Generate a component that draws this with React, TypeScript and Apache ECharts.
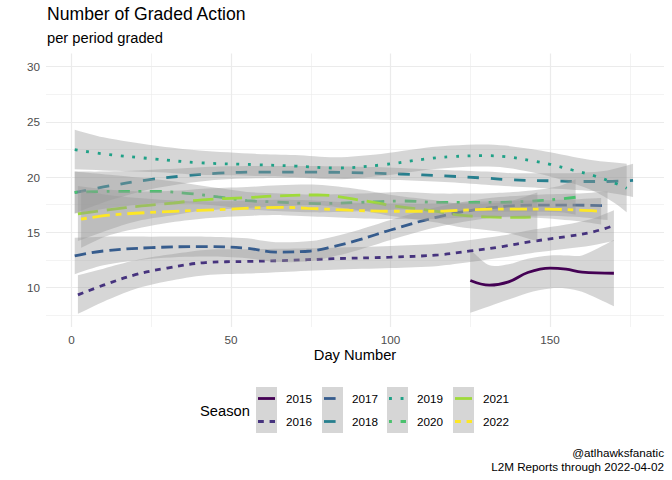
import React, { useEffect, useRef } from 'react';
import * as echarts from 'echarts';

const seasons = ['2015', '2016', '2017', '2018', '2019', '2020', '2021', '2022'];
const seasonColors = ['#440154', '#46337E', '#365C8D', '#277F8E', '#1FA187', '#4AC16D', '#9FDA3A', '#FDE725'];
const U = 2.9;
const seasonDashes: (number[] | 'solid')[] = [
  'solid',
  [2 * U, 2 * U],
  [4 * U, 2 * U],
  [4 * U, 4 * U],
  [1 * U, 3 * U],
  [1 * U, 3 * U, 4 * U, 3 * U],
  [7 * U, 3 * U],
  [2 * U, 2 * U, 6 * U, 2 * U],
];

const x2015 = [125, 131, 137, 143, 150, 155, 160, 170];
const y2015 = [10.62, 10.2, 10.5, 11.35, 11.75, 11.65, 11.38, 11.28];
const lo2015 = [7.7, 8.3, 8.9, 9.5, 9.9, 9.9, 9.6, 8.3];
const hi2015 = [13.4, 12.0, 12.1, 12.6, 12.9, 12.9, 12.9, 14.3];

const x2016 = [2, 10, 20, 30, 42, 55, 66, 82, 100, 115, 125, 135, 144, 155, 163, 170];
const y2016 = [9.32, 10.2, 11.15, 11.75, 12.25, 12.35, 12.43, 12.6, 12.74, 12.95, 13.3, 13.7, 14.15, 14.6, 15.0, 15.6];
const lo2016 = [7.6, 8.7, 9.85, 10.55, 11.1, 11.25, 11.4, 11.6, 11.75, 11.95, 12.3, 12.7, 13.1, 13.5, 13.8, 14.2];
const hi2016 = [11.1, 11.7, 12.45, 12.95, 13.4, 13.45, 13.5, 13.6, 13.75, 13.95, 14.3, 14.7, 15.2, 15.7, 16.2, 17.0];

const x2017 = [1, 10, 25, 42, 55, 64, 75, 82, 90, 100, 115, 131, 146, 158, 168];
const y2017 = [12.85, 13.3, 13.6, 13.7, 13.55, 13.2, 13.3, 13.7, 14.3, 15.2, 16.4, 17.2, 17.45, 17.45, 17.4];
const lo2017 = [11.2, 12.0, 12.6, 12.8, 12.65, 12.3, 12.4, 12.8, 13.4, 14.3, 15.5, 16.3, 16.5, 16.4, 16.1];
const hi2017 = [14.5, 14.6, 14.6, 14.6, 14.45, 14.1, 14.2, 14.6, 15.2, 16.1, 17.3, 18.1, 18.4, 18.5, 18.7];

const x2018 = [1, 10, 24, 35, 46, 60, 75, 87, 103, 117, 130, 138, 152, 160, 168, 176];
const y2018 = [18.6, 19.1, 19.75, 20.1, 20.35, 20.45, 20.45, 20.4, 20.28, 20.1, 19.9, 19.75, 19.65, 19.6, 19.6, 19.7];
const lo2018 = [16.7, 17.7, 18.85, 19.4, 19.75, 19.9, 19.9, 19.85, 19.73, 19.55, 19.3, 19.15, 18.95, 18.8, 18.6, 18.2];
const hi2018 = [20.5, 20.5, 20.65, 20.8, 20.95, 21.0, 21.0, 20.95, 20.83, 20.65, 20.5, 20.35, 20.35, 20.4, 20.6, 21.2];

const x2019 = [1, 10, 26, 40, 58, 70, 83, 97, 111, 119, 129, 136, 144, 150, 157, 164, 171, 174];
const y2019 = [22.48, 22.1, 21.64, 21.3, 21.12, 21.0, 20.82, 21.1, 21.64, 21.85, 21.94, 21.85, 21.5, 21.16, 20.64, 20.1, 19.37, 18.98];
const lo2019 = [20.7, 20.6, 20.45, 20.2, 20.1, 20.0, 19.8, 20.1, 20.65, 20.85, 20.95, 20.85, 20.45, 20.05, 19.45, 18.7, 17.5, 16.8];
const hi2019 = [24.3, 23.6, 22.85, 22.4, 22.1, 22.0, 21.8, 22.1, 22.65, 22.85, 22.95, 22.85, 22.55, 22.25, 21.85, 21.5, 21.3, 21.2];

const x2020 = [1, 12, 26, 36, 46, 55, 62, 77, 90, 104, 115, 124, 133, 143, 153, 158];
const y2020 = [18.62, 18.7, 18.71, 18.53, 18.2, 17.86, 17.77, 17.6, 17.7, 17.83, 17.7, 17.7, 17.7, 17.8, 18.0, 18.17];
const lo2020 = [16.7, 17.2, 17.6, 17.6, 17.4, 17.05, 16.95, 16.8, 16.9, 17.05, 16.9, 16.9, 16.85, 16.85, 16.8, 16.6];
const hi2020 = [20.5, 20.2, 19.8, 19.45, 19.0, 18.65, 18.55, 18.4, 18.5, 18.65, 18.5, 18.5, 18.55, 18.75, 19.2, 19.8];

const x2021 = [2, 12, 22, 32, 41, 55, 65, 77, 90, 101, 115, 121, 130, 138, 146];
const y2021 = [16.66, 17.05, 17.38, 17.65, 17.93, 18.14, 18.3, 18.38, 17.93, 17.38, 16.87, 16.57, 16.4, 16.35, 16.4];
const lo2021 = [14.2, 15.25, 16.1, 16.55, 16.95, 17.2, 17.35, 17.45, 17.0, 16.45, 15.85, 15.5, 15.2, 14.85, 14.2];
const hi2021 = [19.2, 18.85, 18.7, 18.75, 18.95, 19.1, 19.25, 19.3, 18.9, 18.35, 17.85, 17.6, 17.6, 17.85, 18.6];

const x2022 = [3, 12, 28, 40, 49, 57, 66, 74, 87, 100, 114, 126, 137, 147, 159, 166];
const y2022 = [16.18, 16.55, 16.84, 16.98, 17.08, 17.2, 17.25, 17.17, 17.0, 16.9, 16.9, 17.05, 17.1, 17.1, 17.0, 16.9];
const lo2022 = [13.6, 14.75, 15.75, 16.2, 16.4, 16.5, 16.55, 16.45, 16.3, 16.2, 16.2, 16.35, 16.35, 16.3, 16.0, 15.7];
const hi2022 = [18.8, 18.35, 17.95, 17.8, 17.8, 17.9, 17.95, 17.9, 17.7, 17.6, 17.6, 17.75, 17.85, 17.9, 18.0, 18.1];

const xTickLabels = [0, 50, 100, 150];
const yTickLabels = [10, 15, 20, 25, 30];
const xMajorGrid = [0, 50, 100, 150];
const xMinorGrid = [25, 75, 125, 175];
const yMajorGrid = [10, 15, 20, 25, 30];
const yMinorGrid = [7.5, 12.5, 17.5, 22.5, 27.5];

const titleText = 'Number of Graded Action';
const subtitleText = 'per period graded';
const xAxisTitle = 'Day Number';
const legendTitle = 'Season';
const captionLines = ['@atlhawksfanatic', 'L2M Reports through 2022-04-02'];

const seriesX = [x2015, x2016, x2017, x2018, x2019, x2020, x2021, x2022];
const seriesY = [y2015, y2016, y2017, y2018, y2019, y2020, y2021, y2022];
const seriesLo = [lo2015, lo2016, lo2017, lo2018, lo2019, lo2020, lo2021, lo2022];
const seriesHi = [hi2015, hi2016, hi2017, hi2018, hi2019, hi2020, hi2021, hi2022];

const FONT = '"Liberation Sans", Arial, Helvetica, sans-serif';
const BAND_FILL = 'rgba(153,153,153,0.4)';
const LW = 2.8;
const EPS = 0.01;
const TICK_COLOR = '#4D4D4D';

export default function App() {
  const ref = useRef<HTMLDivElement>(null);
  useEffect(() => {
    if (!ref.current) return;
    const chart = echarts.init(ref.current, undefined, { renderer: 'svg', width: 672, height: 480 });

    const series: any[] = [];
    const gridLine = (w: number) => ({ color: '#EBEBEB', width: w, type: 'solid' });
    series.push({
      type: 'line',
      data: [[0, 10]],
      symbol: 'none',
      lineStyle: { width: 0, opacity: 0 },
      silent: true,
      z: 1,
      markLine: {
        silent: true,
        symbol: ['none', 'none'],
        label: { show: false },
        emphasis: { disabled: true },
        data: [
          ...xMinorGrid.map((v) => ({ xAxis: v, lineStyle: gridLine(0.6) })),
          ...yMinorGrid.map((v) => ({ yAxis: v, lineStyle: gridLine(0.6) })),
          ...xMajorGrid.map((v) => ({ xAxis: v, lineStyle: gridLine(1.2) })),
          ...yMajorGrid.map((v) => ({ yAxis: v, lineStyle: gridLine(1.2) })),
        ],
      },
    });

    seasons.forEach((s, i) => {
      const xs = seriesX[i];
      const lo = seriesLo[i];
      const hi = seriesHi[i];
      const n = xs.length;
      series.push({
        type: 'custom',
        name: s + ' band',
        coordinateSystem: 'cartesian2d',
        silent: true,
        z: 10 + 2 * i,
        data: [[xs[0], seriesY[i][0]]],
        encode: { x: 0, y: 1 },
        renderItem: (params: any, api: any) => {
          const pts: number[][] = [];
          pts.push(api.coord([xs[0], lo[0] + EPS]));
          pts.push(api.coord([xs[0], hi[0] - EPS]));
          for (let k = 0; k < n; k++) pts.push(api.coord([xs[k], hi[k]]));
          pts.push(api.coord([xs[n - 1], hi[n - 1] - EPS]));
          pts.push(api.coord([xs[n - 1], lo[n - 1] + EPS]));
          for (let k = n - 1; k >= 0; k--) pts.push(api.coord([xs[k], lo[k]]));
          return {
            type: 'polygon',
            shape: { points: pts, smooth: 0.3 },
            style: { fill: BAND_FILL, stroke: 'none' },
          };
        },
      });
      series.push({
        type: 'line',
        name: s,
        data: xs.map((x, k) => [x, seriesY[i][k]]),
        smooth: 0.4,
        symbol: 'none',
        silent: true,
        z: 11 + 2 * i,
        lineStyle: { color: seasonColors[i], width: LW, type: seasonDashes[i], cap: 'butt' },
      });
    });

    const graphics: any[] = [];
    const txt = (text: string, x: number, y: number, size: number, align: string, color = '#000') => ({
      type: 'text', x, y,
      style: { text, font: `${size}px ${FONT}`, fill: color, textAlign: align, textVerticalAlign: 'middle', verticalAlign: 'middle' },
    });
    graphics.push(txt(titleText, 47, 14.4, 17.6, 'left'));
    graphics.push(txt(subtitleText, 47, 37.6, 14.7, 'left'));
    graphics.push(txt(xAxisTitle, 355, 355, 14.7, 'center'));
    graphics.push(txt(legendTitle, 200, 411, 14.7, 'left'));
    const colX = [256, 322, 387, 453];
    const rowY = [398.5, 421.5];
    colX.forEach((cx) => {
      graphics.push({ type: 'rect', shape: { x: cx, y: 387, width: 21, height: 46 }, style: { fill: '#D6D6D6' } });
    });
    seasons.forEach((s, i) => {
      const cx = colX[Math.floor(i / 2)];
      const cy = rowY[i % 2];
      const dash = seasonDashes[i];
      graphics.push({
        type: 'line',
        shape: { x1: cx + 2, y1: cy, x2: cx + 19, y2: cy },
        style: { stroke: seasonColors[i], lineWidth: LW, lineDash: dash === 'solid' ? null : dash, lineCap: 'butt' },
      });
      graphics.push(txt(s, cx + 30, cy, 11.7, 'left'));
    });
    graphics.push(txt(captionLines[0], 664, 452, 11.7, 'right'));
    graphics.push(txt(captionLines[1], 664, 466, 11.7, 'right'));

    const axisLabelBase = {
      color: TICK_COLOR,
      fontSize: 11.7,
      fontFamily: FONT,
      fontWeight: 'normal' as const,
    };

    chart.setOption({
      animation: false,
      textStyle: { fontFamily: FONT, color: TICK_COLOR },
      grid: { left: 46, top: 53.5, width: 618, height: 273.5, containLabel: false },
      xAxis: {
        type: 'value',
        min: -8,
        max: 185.7,
        axisLine: { show: false, lineStyle: { color: TICK_COLOR } },
        axisTick: { show: false },
        splitLine: { show: false },
        axisLabel: { ...axisLabelBase, customValues: xTickLabels, margin: 6 },
      },
      yAxis: {
        type: 'value',
        min: 6.41,
        max: 31.2,
        axisLine: { show: false, lineStyle: { color: TICK_COLOR } },
        axisTick: { show: false },
        splitLine: { show: false },
        axisLabel: { ...axisLabelBase, customValues: yTickLabels, margin: 6 },
      },
      series,
      graphic: graphics,
    });
    return () => chart.dispose();
  }, []);
  return <div ref={ref} style={{ position: 'absolute', left: 0, top: 0, width: 672, height: 480, background: '#fff' }} />;
}
